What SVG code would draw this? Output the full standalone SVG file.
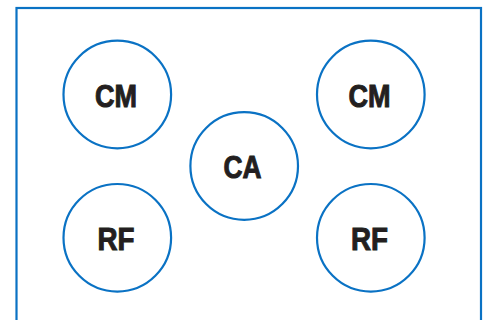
<svg xmlns="http://www.w3.org/2000/svg" width="486" height="320" viewBox="0 0 486 320">
<style>
.n{fill:#fff;stroke:#0a72c4;stroke-width:2.2}
.t{font-family:"Liberation Sans",Arial,sans-serif;font-weight:bold;font-size:31px;fill:#231f20;stroke:#231f20;stroke-width:1;text-anchor:middle}
</style>
<rect x="0" y="0" width="486" height="320" fill="#fff"/>
<rect x="16.5" y="8" width="464.5" height="330" fill="none" stroke="#0a72c4" stroke-width="2.2"/>
<g id="connectors"></g>
<g id="cm1"><circle class="n" cx="117.3" cy="94.5" r="53.8"/><text class="t" x="116" y="106.5" textLength="42" lengthAdjust="spacingAndGlyphs">CM</text></g>
<g id="cm2"><circle class="n" cx="370.8" cy="94.5" r="53.8"/><text class="t" x="369.5" y="106.5" textLength="42" lengthAdjust="spacingAndGlyphs">CM</text></g>
<g id="ca"><circle class="n" cx="244.2" cy="166" r="53.8"/><text class="t" x="242.5" y="178" textLength="38" lengthAdjust="spacingAndGlyphs">CA</text></g>
<g id="rf1"><circle class="n" cx="117.3" cy="237.8" r="53.8"/><text class="t" x="116" y="249.5" textLength="37" lengthAdjust="spacingAndGlyphs">RF</text></g>
<g id="rf2"><circle class="n" cx="370.8" cy="237.8" r="53.8"/><text class="t" x="369.5" y="249.5" textLength="37" lengthAdjust="spacingAndGlyphs">RF</text></g>
</svg>
